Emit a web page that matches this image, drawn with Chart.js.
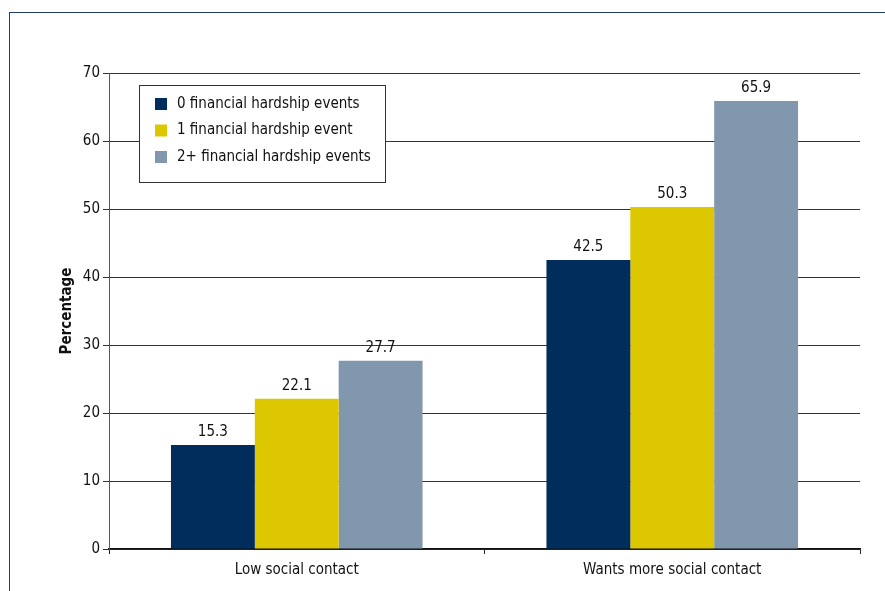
<!DOCTYPE html>
<html>
<head>
<meta charset="utf-8">
<style>
  html, body { margin: 0; padding: 0; background: #fff; }
  #wrap { position: relative; width: 885px; height: 591px; }
  #frame {
    position: absolute; left: 9px; top: 12px; right: 0; bottom: 0;
    border-top: 1.5px solid #1d3c6c; border-left: 1.5px solid #1d3c6c;
  }
  canvas { position: absolute; left: 0; top: 0; }
</style>
<script src="https://cdn.jsdelivr.net/npm/chart.js@4/dist/chart.umd.min.js"></script>
</head>
<body>
<div id="wrap">
  <div id="frame"></div>
  <canvas id="chart" width="885" height="591"></canvas>
</div>
<script>
const FONT = '"Liberation Sans Narrow", "DejaVu Sans Condensed", "Arial Narrow", sans-serif';

const categories = ['Low social contact', 'Wants more social contact'];
const seriesNames = ['0 financial hardship events', '1 financial hardship event', '2+ financial hardship events'];
const zeroEvents = [15.3, 42.5];
const oneEvent = [22.1, 50.3];
const twoPlusEvents = [27.7, 65.9];
const yTicks = [0, 10, 20, 30, 40, 50, 60, 70];

const colors = ['#002d5b', '#dcc700', '#8197ae'];

// value labels above each bar
const barLabels = {
  id: 'barLabels',
  afterDatasetsDraw(chart) {
    const ctx = chart.ctx;
    ctx.save();
    ctx.font = '15px ' + FONT;
    ctx.fillStyle = '#111';
    ctx.textAlign = 'center';
    ctx.textBaseline = 'bottom';
    chart.data.datasets.forEach((ds, i) => {
      chart.getDatasetMeta(i).data.forEach((bar, j) => {
        ctx.fillText(ds.data[j].toFixed(1), bar.x, bar.y - 5);
      });
    });
    ctx.restore();
  }
};

// boxed legend sitting inside the plot area
const boxLegend = {
  id: 'boxLegend',
  afterDatasetsDraw(chart) {
    const ctx = chart.ctx;
    const x = 139, y = 85, w = 246, h = 97;
    ctx.save();
    ctx.fillStyle = '#fff';
    ctx.fillRect(x, y, w, h);
    ctx.strokeStyle = '#333';
    ctx.lineWidth = 1;
    ctx.strokeRect(x + 0.5, y + 0.5, w, h);
    ctx.font = '15px ' + FONT;
    ctx.textBaseline = 'middle';
    chart.data.datasets.forEach((ds, i) => {
      const cy = y + 19 + i * 26.5;
      ctx.fillStyle = ds.backgroundColor;
      ctx.fillRect(x + 16, cy - 6, 12, 12);
      ctx.fillStyle = '#111';
      ctx.fillText(ds.label, x + 38, cy);
    });
    ctx.restore();
  }
};

new Chart(document.getElementById('chart'), {
  type: 'bar',
  data: {
    labels: categories,
    datasets: [
      { label: seriesNames[0], data: zeroEvents, backgroundColor: colors[0] },
      { label: seriesNames[1], data: oneEvent, backgroundColor: colors[1] },
      { label: seriesNames[2], data: twoPlusEvents, backgroundColor: colors[2] }
    ]
  },
  options: {
    responsive: false,
    animation: false,
    layout: { padding: { top: 73, right: 25, left: 0, bottom: 0 } },
    datasets: { bar: { categoryPercentage: 0.67, barPercentage: 1.0 } },
    plugins: { legend: { display: false }, tooltip: { enabled: false } },
    scales: {
      x: {
        grid: { display: true, drawOnChartArea: false, tickLength: 5, color: '#222', offset: true },
        border: { display: true, color: '#111', width: 1.5 },
        ticks: { font: { family: FONT, size: 15 }, color: '#111', padding: 7 },
        afterFit: s => { s.height = 42; }
      },
      y: {
        min: 0,
        max: 70,
        afterBuildTicks: s => { s.ticks = yTicks.map(v => ({ value: v })); },
        grid: { color: '#333', lineWidth: 1, tickLength: 6 },
        border: { display: true, color: '#555', width: 1 },
        ticks: { font: { family: FONT, size: 15 }, color: '#111', padding: 3 },
        title: {
          display: true,
          text: 'Percentage',
          font: { family: FONT, size: 15, weight: 'bold' },
          color: '#111',
          padding: { top: 58, bottom: 0 }
        },
        afterFit: s => { s.width = 109; }
      }
    }
  },
  plugins: [barLabels, boxLegend]
});
</script>
</body>
</html>
